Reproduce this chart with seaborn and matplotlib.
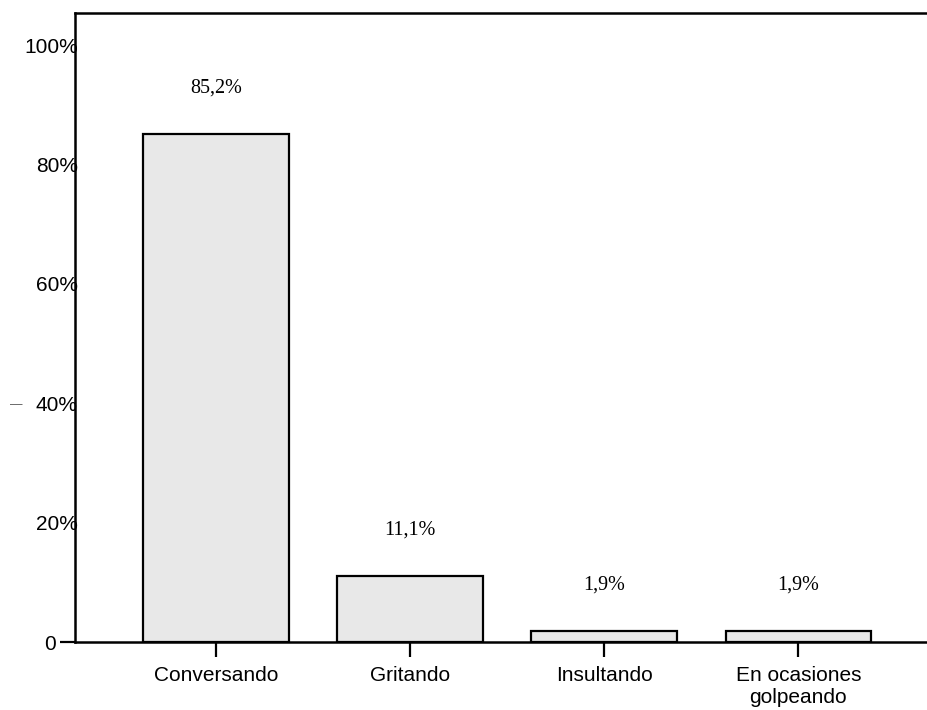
import pandas as pd
import matplotlib
matplotlib.use('Agg')
import matplotlib.pyplot as plt
import seaborn as sns

# Data
categorias = ['Conversando', 'Gritando', 'Insultando', 'En ocasiones\ngolpeando']
porcentajes = [85.2, 11.1, 1.9, 1.9]
etiquetas = ['85,2%', '11,1%', '1,9%', '1,9%']
yticks = [20, 40, 60, 80, 100]
yticklabels = ['20%', '40%', '60%', '80%', '100%']

df = pd.DataFrame({'Categoria': categorias, 'Porcentaje': porcentajes})

sns.set_style('white')
plt.rcParams['font.family'] = ['Liberation Sans', 'DejaVu Sans']
plt.rcParams['text.color'] = 'black'
plt.rcParams['xtick.color'] = 'black'
plt.rcParams['ytick.color'] = 'black'

fig = plt.figure(figsize=(9.27, 7.10), dpi=100)
ax = fig.add_axes([75/927, 1 - 642/710, 1 - 75/927 + 0.01, (642 - 13)/710])

sns.barplot(data=df, x='Categoria', y='Porcentaje', color='#e8e8e8',
            edgecolor='black', linewidth=1.6, width=0.75, saturation=1, ax=ax)

# value labels in serif
for bar, txt in zip(ax.patches, etiquetas):
    ax.annotate(txt, (bar.get_x() + bar.get_width() / 2, bar.get_height()),
                xytext=(0, 26), textcoords='offset points', ha='center', va='bottom',
                fontsize=14.5, family='Liberation Serif', color='black')

ax.set_xlim(-0.727, 3.711)
ax.set_ylim(0, 105.4)

ax.set_yticks(yticks, labels=yticklabels)
ax.tick_params(axis='y', which='major', length=0, pad=-2, labelsize=15)
ax.set_yticks([0], labels=['0'], minor=True)
ax.tick_params(axis='y', which='minor', length=11, width=1.6, pad=3, labelsize=15, left=True)
ax.tick_params(axis='x', length=11, width=1.6, pad=6, labelsize=15, bottom=True)

ax.set_xlabel('')
ax.set_ylabel('')
for s in ax.spines.values():
    s.set_visible(True)
    s.set_linewidth(1.8)
    s.set_color('black')

fig.text(16/927, 1 - 405/710, '—', fontsize=9, color='#555555', ha='center', va='center')

fig.savefig('out.png', dpi=100)
